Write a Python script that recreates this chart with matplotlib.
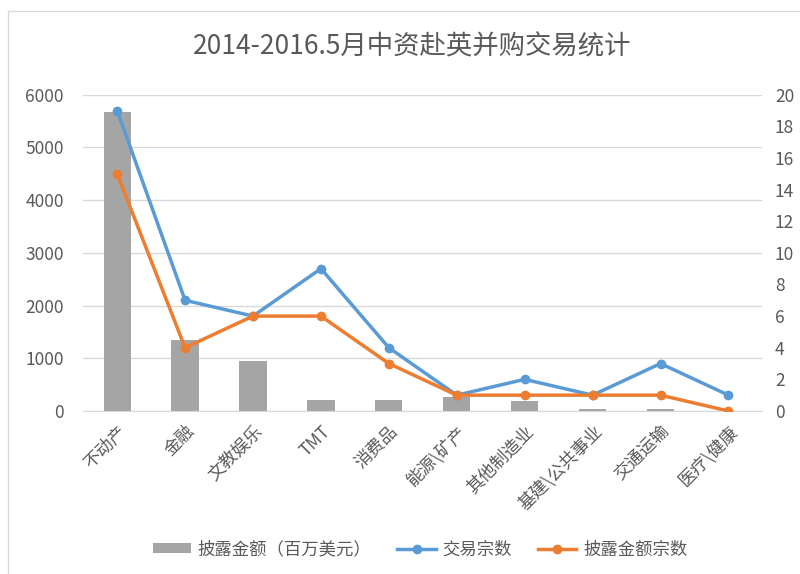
import matplotlib.pyplot as plt
import numpy as np
from matplotlib.patches import Rectangle

plt.rcParams['font.family'] = ['Noto Sans CJK SC', 'DejaVu Sans']

categories = ['不动产', '金融', '文教娱乐', 'TMT', '消费品', '能源\\矿产',
              '其他制造业', '基建\\公共事业', '交通运输', '医疗\\健康']
amount = [5680, 1350, 950, 210, 210, 270, 180, 40, 40, 0]
deals = [19, 7, 6, 9, 4, 1, 2, 1, 3, 1]
disclosed_deals = [15, 4, 6, 6, 3, 1, 1, 1, 1, 0]

gray = '#a5a5a5'
blue = '#5b9bd5'
orange = '#ed7d31'
text_c = '#595959'

fig = plt.figure(figsize=(8, 5.74), dpi=100)
# chart frame, cut off at the right and bottom like the screenshot
fig.patches.append(Rectangle((0.01, -0.05), 1.2, 1.031, transform=fig.transFigure,
                             fill=False, edgecolor='#d9d9d9', linewidth=1))

ax = fig.add_axes([0.104, 0.284, 0.849, 0.551])
x = np.arange(len(categories))
ax.bar(x, amount, width=0.4, color=gray, zorder=2, label='披露金额（百万美元）')
ax.set_ylim(0, 6000)
ax.set_yticks(range(0, 6001, 1000))
ax.set_xlim(-0.5, len(categories) - 0.5)
ax.grid(axis='y', color='#d9d9d9', linewidth=1, zorder=0)
ax.set_axisbelow(True)
for s in ax.spines.values():
    s.set_visible(False)
ax.spines['bottom'].set_visible(True)
ax.spines['bottom'].set_color('#d9d9d9')
ax.tick_params(length=0, colors=text_c, labelsize=12.5)
ax.set_xticks(x)
ax.set_xticklabels(categories, rotation=45, ha='right', rotation_mode='anchor')
ax.tick_params(axis='y', pad=14)
ax.tick_params(axis='x', pad=8)

ax2 = ax.twinx()
ax2.plot(x, deals, color=blue, linewidth=2.5, marker='o', markersize=6, label='交易宗数', zorder=3)
ax2.plot(x, disclosed_deals, color=orange, linewidth=2.5, marker='o', markersize=6,
         label='披露金额宗数', zorder=3)
ax2.set_ylim(0, 20)
ax2.set_yticks(range(0, 21, 2))
for s in ax2.spines.values():
    s.set_visible(False)
ax2.tick_params(length=0, colors=text_c, labelsize=12.5, pad=9)

fig.suptitle('2014-2016.5月中资赴英并购交易统计', x=0.515, y=0.918, va='center',
             fontsize=19, color=text_c)

h1, l1 = ax.get_legend_handles_labels()
h2, l2 = ax2.get_legend_handles_labels()
fig.legend(h1 + h2, l1 + l2, loc='center', bbox_to_anchor=(0.525, 0.043), ncol=3,
           frameon=False, fontsize=12.5, labelcolor=text_c, handlelength=2.2,
           handleheight=0.5, columnspacing=1.5, handletextpad=0.4)

fig.savefig('out.png', dpi=100)
